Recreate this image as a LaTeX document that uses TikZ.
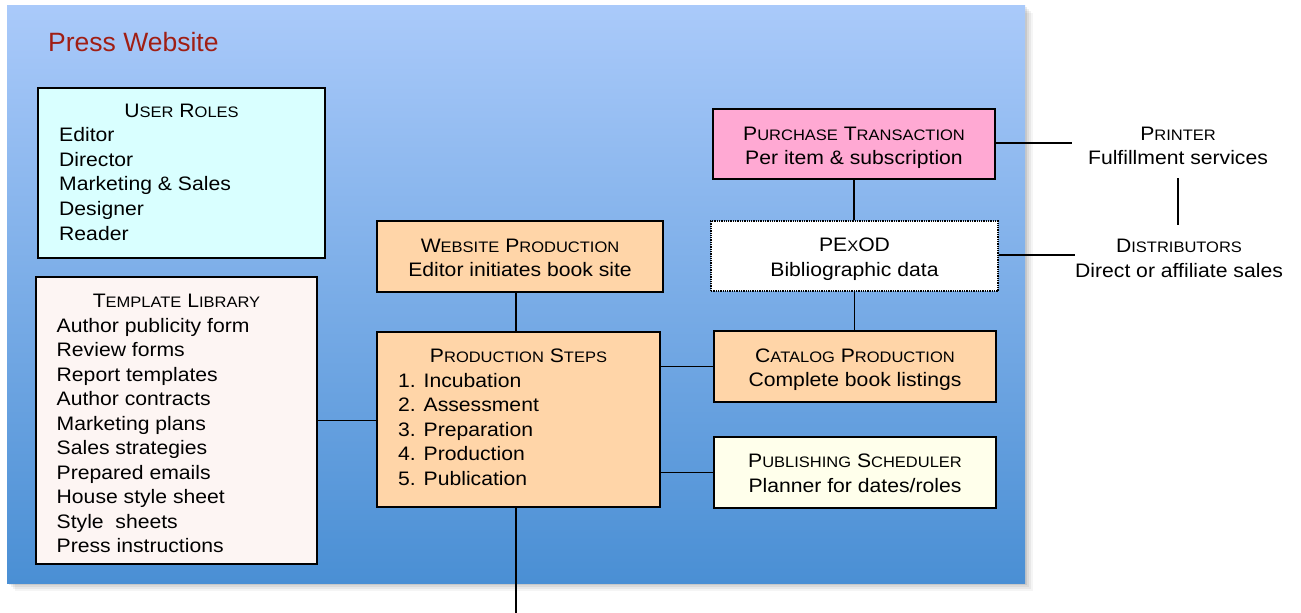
\documentclass[tikz,border=0pt]{standalone}
\usepackage{fontspec}
\setmainfont{Liberation Sans}
\newfontfamily\widefont[FakeStretch=1.085]{Liberation Sans}
\usetikzlibrary{calc}
\newcommand\smc[1]{{\fontsize{15.2}{15}\selectfont #1}}
\definecolor{bgtop}{RGB}{170,202,250}
\definecolor{bgbot}{RGB}{74,143,212}
\definecolor{titlered}{RGB}{160,30,20}
\definecolor{rolefill}{RGB}{217,255,255}
\definecolor{tplfill}{RGB}{253,245,243}
\definecolor{peach}{RGB}{255,213,168}
\definecolor{pinkfill}{RGB}{255,169,211}
\definecolor{ivory}{RGB}{255,255,235}
\begin{document}
\begin{tikzpicture}[x=1pt,y=-1pt,
  box/.style={draw=black, line width=1.8pt, inner sep=0pt},
  txt/.style={font=\widefont\fontsize{19.5}{24.6}\selectfont, inner sep=0pt, text=black, anchor=base},
  lst/.style={txt, anchor=base west},
  conn/.style={line width=1.8pt, draw=black}]
\useasboundingbox (0,0) rectangle (1301,613);
\fill[white] (0,0) rectangle (1301,613);
% shadow of background panel
\foreach \o/\a in {8/0.04,6/0.05,4/0.06,2/0.08}{
  \fill[black, opacity=\a] (7+\o,5+\o) rectangle (1025+\o,583+\o);
}
\shade[top color=bgtop, bottom color=bgbot] (7,5) rectangle (1025,583);

\node[anchor=base west, inner sep=0pt, text=titlered, font=\fontsize{26.5}{30}\selectfont] (title) at (48,51.7) {Press Website};

% User roles
\node[box, fill=rolefill, minimum width=287, minimum height=170] (roles) at (181.5,173) {};
\node[txt] (rolestitle) at (181.5,117) {U\smc{SER} R\smc{OLES}};
\foreach \t [count=\i] in {Editor,Director,Marketing \& Sales,Designer,Reader}
  \node[lst] (role\i) at (59,141.3+24.7*\i-24.7) {\t};

% Template library
\node[box, fill=tplfill, minimum width=281, minimum height=287] (template) at (176.5,420.5) {};
\node[txt] (tpltitle) at (176.5,307) {T\smc{EMPLATE} L\smc{IBRARY}};
\foreach \t [count=\i] in {Author publicity form,Review forms,Report templates,Author contracts,Marketing plans,Sales strategies,Prepared emails,House style sheet,Style~ sheets,Press instructions}
  \node[lst] (tpl\i) at (56.5,332+24.5*\i-24.5) {\t};

% Website production
\node[box, fill=peach, minimum width=286, minimum height=71] (webprod) at (520,256.5) {};
\node[txt] (webprodA) at (520,252) {W\smc{EBSITE} P\smc{RODUCTION}};
\node[txt] (webprodB) at (520,276) {Editor initiates book site};

% Production steps
\node[box, fill=peach, minimum width=283, minimum height=175] (steps) at (518.5,419.5) {};
\node[txt] (stepstitle) at (518.5,362) {P\smc{RODUCTION} S\smc{TEPS}};
\foreach \t [count=\i] in {1. Incubation,2. Assessment,3. Preparation,4. Production,5. Publication}
  \node[lst] (step\i) at (398,387+24.5*\i-24.5) {\t};

% Purchase transaction
\node[box, fill=pinkfill, minimum width=282, minimum height=70] (purchase) at (854,144) {};
\node[txt] (purchaseA) at (854,140) {P\smc{URCHASE} T\smc{RANSACTION}};
\node[txt] (purchaseB) at (854,164) {Per item \& subscription};

% PExOD
\node[box, fill=white, line width=1.3pt, densely dotted, minimum width=287, minimum height=70] (pexod) at (854.5,256) {};
\node[txt] (pexodA) at (854.5,251) {PE\smc{X}OD};
\node[txt] (pexodB) at (854.5,276) {Bibliographic data};

% Catalog production
\node[box, fill=peach, minimum width=282, minimum height=71] (catalog) at (855,366.5) {};
\node[txt] (catalogA) at (855,362) {C\smc{ATALOG} P\smc{RODUCTION}};
\node[txt] (catalogB) at (855,386) {Complete book listings};

% Publishing scheduler
\node[box, fill=ivory, minimum width=282, minimum height=71] (sched) at (855,472.5) {};
\node[txt] (schedA) at (855,467) {P\smc{UBLISHING} S\smc{CHEDULER}};
\node[txt] (schedB) at (855,492) {Planner for dates/roles};

% Outside
\node[txt] (printer) at (1178,140) {P\smc{RINTER}};
\node[txt] (printerB) at (1178,164) {Fulfillment services};
\node[txt] (dist) at (1179,252) {D\smc{ISTRIBUTORS}};
\node[txt] (distB) at (1179,277) {Direct or affiliate sales};

% connectors
\coordinate (pend) at (1072,143);
\coordinate (dend) at (1075,255);
\coordinate (pdtop) at (1178,178);
\coordinate (pdbot) at (1178,225);
\coordinate (bot) at (516,613);
\draw[conn] (purchase.east |- pend) -- (pend);
\draw[conn] (pexod.east |- dend) -- (dend);
\draw[conn] (pdtop) -- (pdbot);
\draw[conn] (purchase.south) -- (purchase.south |- pexod.north);
\draw[conn] (pexod.south) -- (pexod.south |- catalog.north);
\draw[conn] (webprod.south -| bot) -- (steps.north -| bot);
\draw[conn] (template.east) -- (template.east -| steps.west);
\draw[conn] (steps.east |- catalog.west) -- (catalog.west);
\draw[conn] (steps.east |- sched.west) -- (sched.west);
\draw[conn] (steps.south -| bot) -- (bot);
\end{tikzpicture}
\end{document}
